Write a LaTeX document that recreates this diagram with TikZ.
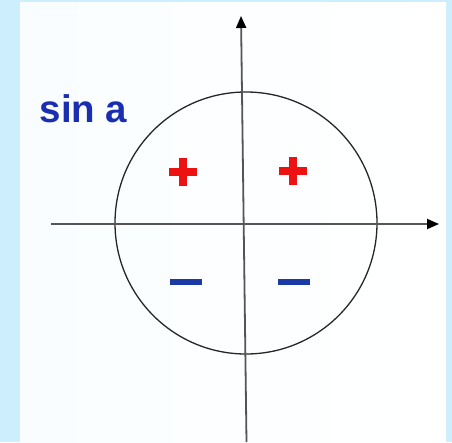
\documentclass[tikz,border=0pt]{standalone}
\usepackage{fontspec}
\setmainfont{Liberation Sans}
\usetikzlibrary{arrows.meta}
\definecolor{bgblue}{HTML}{CCEEFD}
\definecolor{panel}{HTML}{FBFEFF}
\definecolor{axisgray}{HTML}{555555}
\definecolor{plusred}{HTML}{EE1111}
\definecolor{minusblue}{HTML}{1C3AA6}
\definecolor{textblue}{HTML}{1A2FB0}
\tikzset{
  axis/.style={draw=axisgray, line width=1.8pt, -{Triangle[length=12pt,width=10pt,color=black]}},
  unitcircle/.style={draw=black!85, line width=1.3pt},
  plussign/.style={fill=plusred},
  minussign/.style={fill=minusblue},
  label/.style={text=textblue, font=\bfseries\fontsize{38.5}{38.5}\selectfont, inner sep=0pt, anchor=base west}
}
\begin{document}
\begin{tikzpicture}[x=1pt,y=-1pt]
\useasboundingbox (0,0) rectangle (452,442);
\fill[bgblue] (0,0) rectangle (452,442);
\shade[left color=panel!70!bgblue!30!white, right color=white] (20,2) rectangle (446,442);
% circle
\node[unitcircle, circle, minimum size=262pt, inner sep=0pt] (circ) at (246,223) {};
% axes
\coordinate (xl) at (51,224);
\coordinate (xr) at (439,224);
\coordinate (yb) at (246.5,442);
\coordinate (yt) at (241,16);
\draw[axis] (xl) -- (xr);
\draw[axis] (yb) -- (yt);
% plus signs
\foreach \cx/\cy in {183/172, 293/171}{
  \fill[plussign] (\cx-14,\cy-4) rectangle (\cx+14,\cy+4);
  \fill[plussign] (\cx-4,\cy-14) rectangle (\cx+4,\cy+14);
}
% minus signs
\fill[minussign] (170,279) rectangle (202,285);
\fill[minussign] (278,279) rectangle (310,285);
% label
\node[label] (sin) at (39.5,122) {sin a};
\end{tikzpicture}
\end{document}
